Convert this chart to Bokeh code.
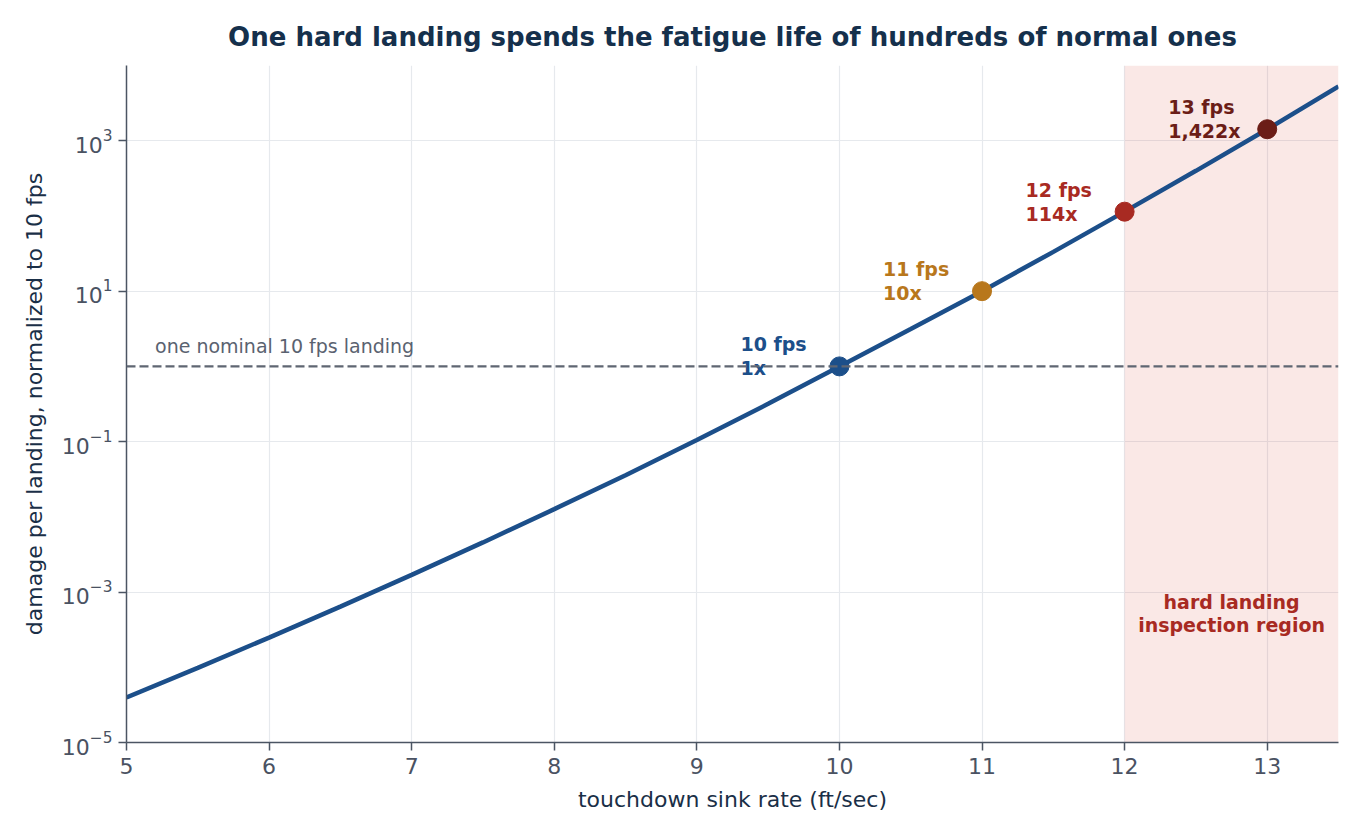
from bokeh.plotting import figure
from bokeh.models import FixedTicker, LogTickFormatter, Span, BoxAnnotation, ColumnDataSource
from bokeh.core.properties import value
from bokeh.embed import file_html
from bokeh.resources import INLINE

# ---- data ----
sink_rate = [5.0, 5.5, 6.0, 6.5, 7.0, 7.5, 8.0, 8.5, 9.0, 9.5,
             10.0, 10.5, 11.0, 11.5, 12.0, 12.5, 13.0, 13.5]
damage = [3.98e-5, 9.82e-5, 2.48e-4, 6.40e-4, 1.69e-3, 4.57e-3, 1.265e-2, 3.58e-2, 0.105, 0.318,
          1.0, 3.14, 10.0, 33.3, 114.0, 398.0, 1422.0, 5250.0]

key_fps = [10, 11, 12, 13]
key_damage = [1, 10, 114, 1422]
key_colors = ["#1c4f8a", "#b8771c", "#a82a22", "#6b1d17"]

nominal_damage = 1
hard_landing_start = 12
x_ticks = [5, 6, 7, 8, 9, 10, 11, 12, 13]
y_ticks = [1e-5, 1e-3, 1e-1, 1e1, 1e3]

FONT = "DejaVu Sans"

p = figure(width=1356, height=829, y_axis_type="log",
           x_range=(5, 13.5), y_range=(1e-5, 1e4),
           output_backend="svg", toolbar_location=None,
           min_border_left=126, min_border_right=18,
           min_border_top=65, min_border_bottom=87)
p.outline_line_color = None
p.background_fill_color = "white"

p.title.text = "One hard landing spends the fatigue life of hundreds of normal ones"
p.title.align = "center"
p.title.text_font = FONT
p.title.text_font_size = "26px"
p.title.text_font_style = "bold"
p.title.text_color = "#15304c"
p.title.standoff = 28

# shaded hard-landing region
p.add_layout(BoxAnnotation(left=hard_landing_start, fill_color="#d53f2f",
                           fill_alpha=0.12, line_color=None, level="underlay"))

# axes
for ax in (p.xaxis[0], p.yaxis[0]):
    ax.axis_line_color = "#4b5563"
    ax.axis_line_width = 1.5
    ax.major_tick_line_color = "#4b5563"
    ax.major_tick_line_width = 1.5
    ax.major_tick_out = 8
    ax.major_tick_in = 0
    ax.minor_tick_out = 0
    ax.minor_tick_in = 0
    ax.major_label_text_font = FONT
    ax.major_label_text_font_size = "22px"
    ax.major_label_text_color = "#4a5262"
    ax.axis_label_text_font = FONT
    ax.axis_label_text_font_size = "22px"
    ax.axis_label_text_font_style = "normal"
    ax.axis_label_text_color = "#1a2f47"

p.xaxis.ticker = FixedTicker(ticks=x_ticks)
p.yaxis.ticker = FixedTicker(ticks=y_ticks)
p.yaxis.formatter = LogTickFormatter()
p.xaxis.axis_label = "touchdown sink rate (ft/sec)"
p.yaxis.axis_label = "damage per landing, normalized to 10 fps"
p.xaxis.major_label_standoff = 7
p.yaxis.major_label_standoff = 6
p.xaxis.axis_label_standoff = 10
p.yaxis.axis_label_standoff = 12

p.xgrid.grid_line_color = "#e6e9ed"
p.ygrid.grid_line_color = "#e6e9ed"
p.xgrid.grid_line_width = 1.2
p.ygrid.grid_line_width = 1.2

# nominal dashed line
p.add_layout(Span(location=nominal_damage, dimension="width", line_color="#5f6672",
                  line_width=2.2, line_dash="9 4"))
p.text(x=[5.2], y=[nominal_damage], text=["one nominal 10 fps landing"],
       text_font=value(FONT), text_font_size="19px", text_color="#5a6270",
       text_align="left", text_baseline="bottom", y_offset=-9)

# curve
p.line(sink_rate, damage, line_color="#1c4f8a", line_width=4.5)

# key points and labels
labels = [f"{f} fps\n{d:,}x" for f, d in zip(key_fps, key_damage)]
src = ColumnDataSource(dict(x=key_fps, y=key_damage, c=key_colors, t=labels))
p.scatter("x", "y", source=src, size=19, fill_color="c", line_color="c")
p.text("x", "y", text="t", source=src, text_color="c", text_font=value(FONT),
       text_font_size="19px", text_font_style="bold", text_align="left",
       text_baseline="middle", x_offset=-99, y_offset=-10, text_line_height=1.1)

p.text(x=[12.75], y=[5.2e-4], text=["hard landing\ninspection region"],
       text_font=value(FONT), text_font_size="19px", text_font_style="bold",
       text_color="#a82a22", text_align="center", text_baseline="middle",
       text_line_height=1.05)

open("out.html", "w").write(file_html(p, INLINE))
